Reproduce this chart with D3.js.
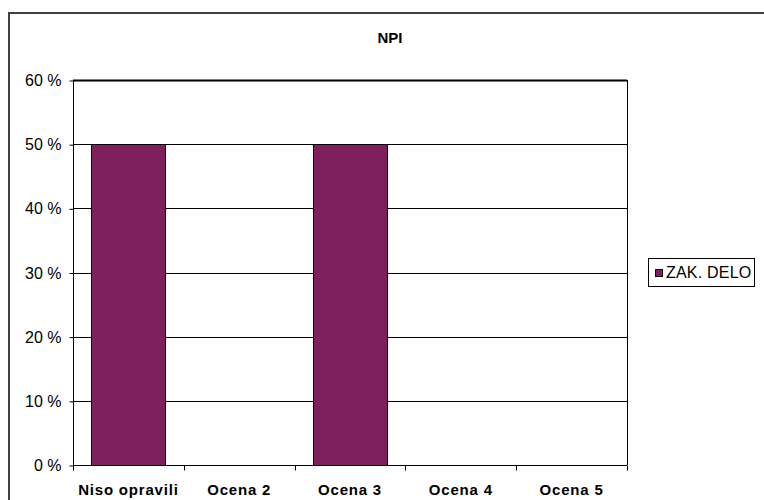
<!DOCTYPE html>
<html>
<head>
<meta charset="utf-8">
<script src="https://cdn.jsdelivr.net/npm/d3@7"></script>
<style>
  body { margin: 0; background: #fff; }
  text { font-family: "Liberation Sans", Arial, sans-serif; fill: #000; }
</style>
</head>
<body>
<svg id="chart" width="764" height="500"></svg>
<script>
// data
var categories = ["Niso opravili", "Ocena 2", "Ocena 3", "Ocena 4", "Ocena 5"];
var seriesName = "ZAK. DELO";
var values = [50, 0, 50, 0, 0];
var yTicks = [0, 10, 20, 30, 40, 50, 60];

var svg = d3.select("#chart");
var pLeft = 73, pRight = 627, pTop = 80, pBottom = 465;

// outer chart border (top + left only visible)
svg.append("path")
    .attr("d", "M9,520 L9,13 L770,13")
    .attr("fill", "none")
    .attr("stroke", "#404040")
    .attr("stroke-width", 2);

var x = d3.scaleBand().domain(categories).range([pLeft, pRight]).paddingInner(0.33).paddingOuter(0.165);
var xb = d3.scaleBand().domain(categories).range([pLeft, pRight]);
var y = d3.scaleLinear().domain([0, 60]).range([pBottom, pTop]);

// gridlines
svg.append("g").selectAll("line").data(yTicks.slice(1)).enter().append("line")
    .attr("x1", pLeft).attr("x2", pRight)
    .attr("y1", function(d) { return Math.round(y(d)) + 0.5; })
    .attr("y2", function(d) { return Math.round(y(d)) + 0.5; })
    .attr("stroke", "#000")
    .attr("stroke-width", function(d) { return d === 60 ? 2 : 1; });

// right border of plot
svg.append("line")
    .attr("x1", pRight + 0.5).attr("x2", pRight + 0.5)
    .attr("y1", pTop).attr("y2", pBottom)
    .attr("stroke", "#000");

// bars
svg.append("g").selectAll("rect").data(values).enter().append("rect")
    .attr("x", function(d, i) { return Math.round(x(categories[i])) + 0.5; })
    .attr("y", function(d) { return Math.round(y(d)) + 0.5; })
    .attr("width", Math.round(x.bandwidth()))
    .attr("height", function(d) { return Math.round(y(0)) - Math.round(y(d)); })
    .attr("fill", "#801f5e")
    .attr("stroke", "#000")
    .attr("stroke-width", function(d) { return d > 0 ? 1 : 0; });

// y axis
var yAxis = d3.axisLeft(y).tickValues(yTicks).tickSize(4).tickPadding(8)
    .tickFormat(function(d) { return d + " %"; });
var gy = svg.append("g").attr("transform", "translate(" + (pLeft + 0.5) + ",0.5)").call(yAxis);
gy.select(".domain").attr("d", "M0," + pTop + "V" + pBottom).attr("stroke", "#000");
gy.selectAll(".tick line").attr("stroke", "#000");
gy.selectAll(".tick text")
    .style("font-size", "16px")
    .attr("dy", "0.32em");

// x axis
var xAxis = d3.axisBottom(xb).tickSize(0).tickPadding(0).tickFormat("");
var gx = svg.append("g").attr("transform", "translate(0," + (pBottom + 0.5) + ")").call(xAxis);
gx.select(".domain").attr("d", "M" + pLeft + ",0H" + pRight).attr("stroke", "#000");
gx.selectAll(".tick").remove();
gx.selectAll("line.sep").data(d3.range(categories.length + 1)).enter().append("line")
    .attr("class", "sep")
    .attr("x1", function(i) { return Math.round(pLeft + i * xb.step()) + 0.5; })
    .attr("x2", function(i) { return Math.round(pLeft + i * xb.step()) + 0.5; })
    .attr("y1", 0).attr("y2", 5)
    .attr("stroke", "#000");
gx.selectAll("text.cat").data(categories).enter().append("text")
    .attr("class", "cat")
    .attr("x", function(d) { return xb(d) + xb.bandwidth() / 2; })
    .attr("y", 494 - pBottom)
    .attr("text-anchor", "middle")
    .style("font-size", "15px")
    .style("font-weight", "bold")
    .style("letter-spacing", "0.8px")
    .text(function(d) { return d; });

// title
svg.append("text")
    .attr("x", 390).attr("y", 43)
    .attr("text-anchor", "middle")
    .style("font-size", "15px")
    .style("font-weight", "bold")
    .text("NPI");

// legend
var lg = svg.append("g").attr("transform", "translate(648,258)");
lg.append("rect")
    .attr("x", 0.5).attr("y", 0.5).attr("width", 106).attr("height", 28)
    .attr("fill", "#fff").attr("stroke", "#000");
lg.append("rect")
    .attr("x", 7.5).attr("y", 11.5).attr("width", 7).attr("height", 7)
    .attr("fill", "#801f5e").attr("stroke", "#000");
lg.append("text")
    .attr("x", 18).attr("y", 20)
    .style("font-size", "16px")
    .style("letter-spacing", "0.2px")
    .text(seriesName);
</script>
</body>
</html>
